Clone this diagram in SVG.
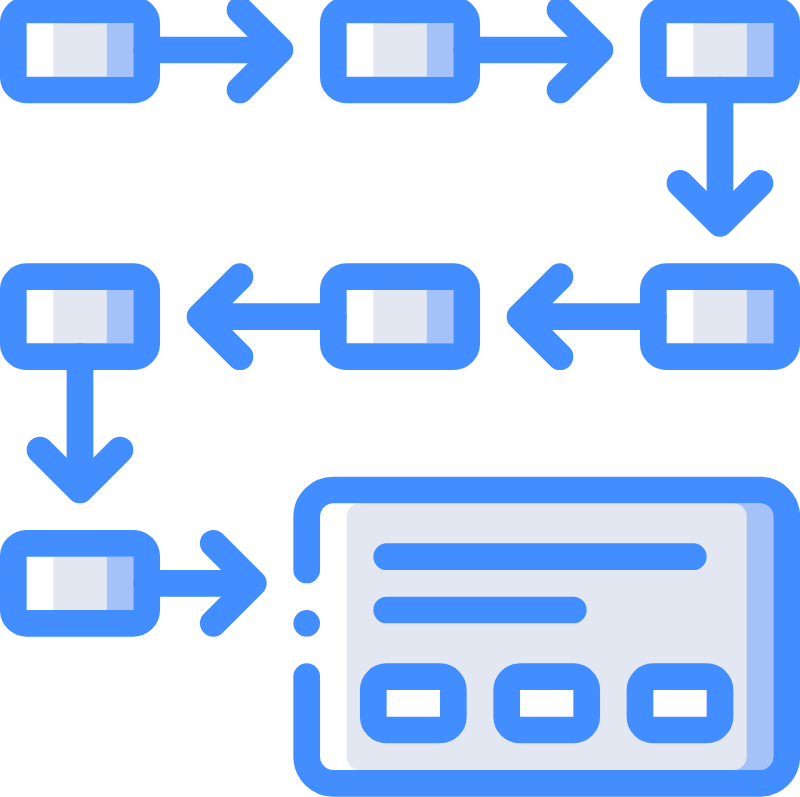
<svg xmlns="http://www.w3.org/2000/svg" width="800" height="797" viewBox="0 0 800 797">
<style>
.s{fill:none;stroke:#428dff;stroke-width:26.7;stroke-linecap:round;stroke-linejoin:round}
.w{fill:#ffffff}.g{fill:#e3e7f2}.b{fill:#a4c2f7}
</style>
<defs>
<g id="node">
<rect class="w" x="26.7" y="-26.7" width="26.6" height="53.4"/>
<rect class="g" x="53.3" y="-26.7" width="53.4" height="53.4"/>
<rect class="b" x="106.7" y="-26.7" width="26.6" height="53.4"/>
<rect class="s" x="13.3" y="-40" width="133.4" height="80" rx="13.3"/>
</g>
</defs>
<rect width="800" height="797" fill="#ffffff"/>
<g id="n1"><use href="#node" x="0" y="50"/></g>
<g id="n2"><use href="#node" x="320" y="50"/></g>
<g id="n3"><use href="#node" x="640" y="50"/></g>
<g id="n4"><use href="#node" x="640" y="316.7"/></g>
<g id="n5"><use href="#node" x="320" y="316.7"/></g>
<g id="n6"><use href="#node" x="0" y="316.7"/></g>
<g id="n7"><use href="#node" x="0" y="583.3"/></g>
<g id="panel">
<rect class="w" x="320" y="503.3" width="453.3" height="266.7" rx="13.3"/>
<rect class="b" x="720" y="503.3" width="53.3" height="266.7" rx="13.3"/>
<rect class="g" x="346.7" y="503.3" width="400" height="266.7" rx="13.3"/>
<path class="s" d="M306.7,570V516.7A26.7,26.7 0 0 1 333.3,490H760A26.7,26.7 0 0 1 786.7,516.7V756.7A26.7,26.7 0 0 1 760,783.3H333.3A26.7,26.7 0 0 1 306.7,756.7V676.7"/>
<circle cx="306.7" cy="623.3" r="13.3" fill="#428dff"/>
<path class="s" d="M386.7,556.7H693.3M386.7,610H573.3"/>
<rect class="w" x="373.3" y="676.7" width="80" height="53.3"/>
<rect class="w" x="506.7" y="676.7" width="80" height="53.3"/>
<rect class="w" x="640" y="676.7" width="80" height="53.3"/>
<rect class="s" x="373.3" y="676.7" width="80" height="53.3" rx="13.3"/>
<rect class="s" x="506.7" y="676.7" width="80" height="53.3" rx="13.3"/>
<rect class="s" x="640" y="676.7" width="80" height="53.3" rx="13.3"/>
</g>
<g id="connectors" class="s">
<path d="M146.7,50H280M240,10L280,50L240,90"/>
<path d="M466.7,50H600M560,10L600,50L560,90"/>
<path d="M720,90V223.3M680,183.3L720,223.3L760,183.3"/>
<path d="M653.3,316.7H520M560,276.7L520,316.7L560,356.7"/>
<path d="M333.3,316.7H200M240,276.7L200,316.7L240,356.7"/>
<path d="M80,356.7V490M40,450L80,490L120,450"/>
<path d="M146.7,583.3H253.3M213.3,543.3L253.3,583.3L213.3,623.3"/>
</g>
</svg>
